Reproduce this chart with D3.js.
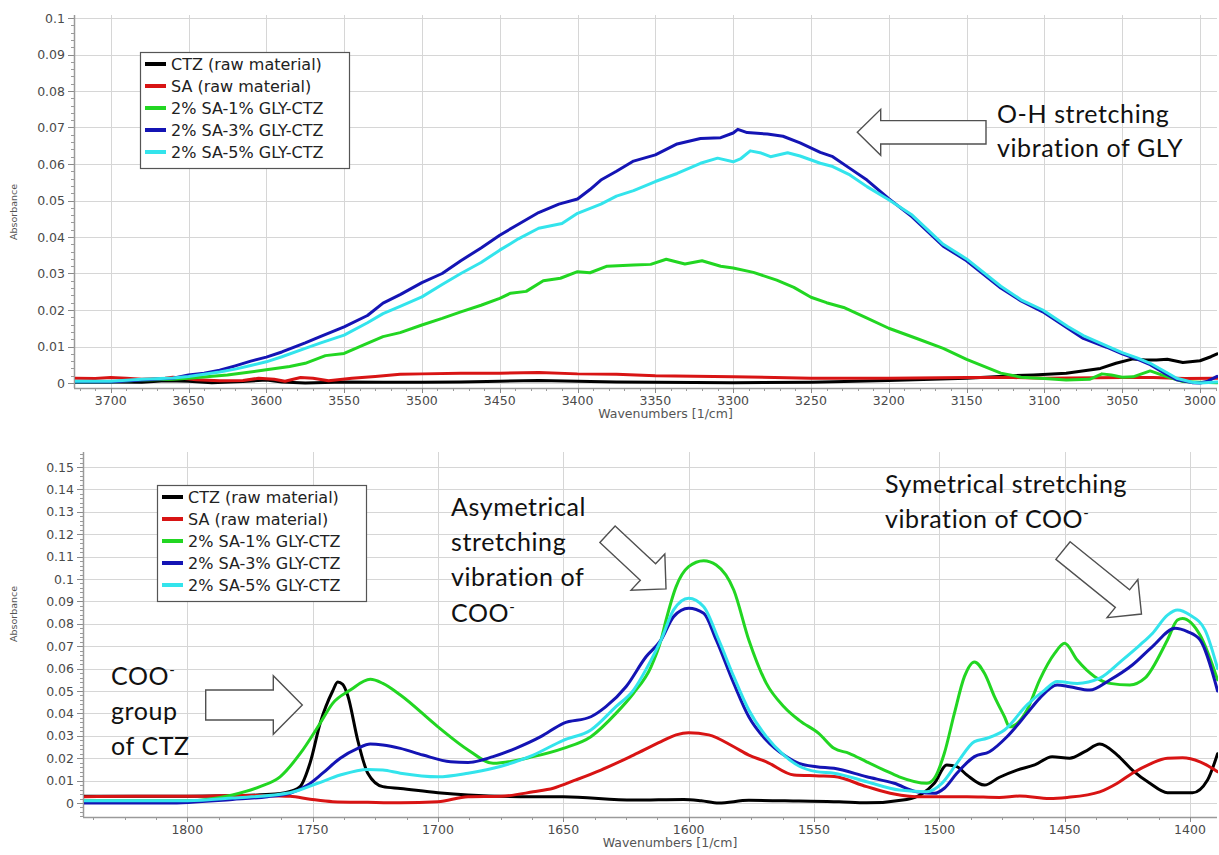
<!DOCTYPE html>
<html>
<head>
<meta charset="utf-8">
<script src="https://cdn.jsdelivr.net/npm/d3@7"></script>
<style>
  html, body { margin: 0; padding: 0; background: #fff; }
  svg { display: block; }
</style>
</head>
<body>
<svg id="chart" width="1219" height="855"></svg>
<script>
// ---- Series names and colours ----
const seriesNames = ["CTZ (raw material)", "SA (raw material)", "2% SA-1% GLY-CTZ", "2% SA-3% GLY-CTZ", "2% SA-5% GLY-CTZ"];
const seriesColors = ["#000000", "#d81414", "#22d622", "#1414b4", "#33e4ec"];

// ---- Upper panel: O-H region (wavenumber, absorbance) ----
const ohCTZ = [[3724,0.0003],[3700,0.0003],[3680,0.0002],[3665,0.0006],[3650,0.0005],[3635,0.0001],[3615,0.0004],[3600,0.0008],[3590,0.0003],[3575,0.0],[3550,0.0003],[3525,0.0002],[3500,0.0002],[3475,0.0003],[3450,0.0005],[3425,0.0007],[3400,0.0005],[3375,0.0003],[3350,0.0002],[3300,0.0001],[3250,0.0002],[3200,0.0007],[3150,0.0013],[3120,0.0020],[3107,0.0022],[3086,0.0027],[3064,0.0040],[3054,0.0054],[3043,0.0066],[3035,0.0063],[3028,0.0063],[3021,0.0065],[3011,0.0056],[3000,0.0061],[2993,0.0072],[2989,0.0080]];
const ohSA = [[3724,0.0013],[3710,0.0012],[3700,0.0015],[3690,0.0013],[3680,0.0010],[3665,0.0013],[3660,0.0016],[3645,0.0009],[3630,0.0006],[3615,0.0007],[3605,0.0013],[3595,0.0010],[3588,0.0005],[3578,0.0015],[3570,0.0013],[3560,0.0006],[3545,0.0013],[3530,0.0018],[3514,0.0024],[3500,0.0025],[3475,0.0027],[3450,0.0027],[3425,0.0029],[3400,0.0025],[3375,0.0024],[3350,0.0020],[3300,0.0017],[3250,0.0013],[3200,0.0013],[3150,0.0015],[3120,0.0015],[3100,0.0013],[3050,0.0015],[3030,0.0015],[3010,0.0012],[2989,0.0013]];
const ohGly1 = [[3724,0.0002],[3700,0.0003],[3680,0.0008],[3660,0.0010],[3650,0.0013],[3625,0.0022],[3600,0.0036],[3585,0.0045],[3575,0.0054],[3562,0.0075],[3550,0.0081],[3537,0.0105],[3525,0.0127],[3514,0.0138],[3500,0.0159],[3487,0.0177],[3475,0.0195],[3462,0.0213],[3450,0.0232],[3443,0.0246],[3433,0.0251],[3422,0.0280],[3411,0.0287],[3400,0.0305],[3392,0.0302],[3381,0.0320],[3364,0.0323],[3353,0.0325],[3343,0.0339],[3331,0.0326],[3320,0.0335],[3308,0.0320],[3300,0.0315],[3287,0.0303],[3272,0.0282],[3261,0.0262],[3250,0.0235],[3240,0.0220],[3229,0.0207],[3215,0.0180],[3200,0.0150],[3182,0.0122],[3165,0.0095],[3150,0.0065],[3128,0.0027],[3115,0.0016],[3100,0.0012],[3086,0.0008],[3071,0.0010],[3063,0.0025],[3057,0.0022],[3050,0.0016],[3043,0.0017],[3032,0.0033],[3021,0.0017],[3011,0.0004],[3000,0.0002],[2989,0.0001]];
const ohGly3 = [[3724,0.0003],[3700,0.0003],[3680,0.0008],[3660,0.0013],[3650,0.0022],[3640,0.0027],[3630,0.0035],[3620,0.0047],[3610,0.0060],[3600,0.0071],[3590,0.0085],[3575,0.0110],[3565,0.0128],[3550,0.0154],[3535,0.0185],[3525,0.0219],[3514,0.0242],[3500,0.0275],[3487,0.0300],[3475,0.0335],[3462,0.0370],[3450,0.0405],[3438,0.0435],[3425,0.0467],[3412,0.0490],[3400,0.0504],[3392,0.0530],[3385,0.0556],[3375,0.0580],[3364,0.0608],[3350,0.0625],[3336,0.0655],[3321,0.0670],[3308,0.0672],[3300,0.0685],[3297,0.0695],[3291,0.0686],[3278,0.0682],[3268,0.0676],[3257,0.0658],[3244,0.0632],[3236,0.0620],[3225,0.0588],[3214,0.0556],[3200,0.0505],[3185,0.0455],[3165,0.0375],[3150,0.0335],[3128,0.0260],[3115,0.0225],[3101,0.0195],[3085,0.0150],[3075,0.0122],[3060,0.0098],[3050,0.0080],[3040,0.0065],[3032,0.0050],[3022,0.0025],[3015,0.0009],[3005,0.0001],[3000,0.0],[2995,0.0005],[2989,0.0018]];
const ohGly5 = [[3724,0.0005],[3700,0.0005],[3680,0.0010],[3660,0.0014],[3650,0.0018],[3640,0.0024],[3630,0.0030],[3620,0.0038],[3610,0.0048],[3600,0.0058],[3590,0.0072],[3575,0.0095],[3565,0.0110],[3550,0.0131],[3535,0.0165],[3525,0.0190],[3514,0.0210],[3500,0.0236],[3487,0.0270],[3475,0.0300],[3462,0.0330],[3450,0.0364],[3438,0.0395],[3425,0.0424],[3410,0.0437],[3400,0.0465],[3385,0.0490],[3375,0.0512],[3364,0.0527],[3350,0.0552],[3336,0.0574],[3321,0.0602],[3310,0.0616],[3300,0.0606],[3295,0.0615],[3289,0.0636],[3282,0.0630],[3276,0.0620],[3265,0.0631],[3257,0.0622],[3244,0.0602],[3236,0.0593],[3225,0.0570],[3214,0.0538],[3200,0.0502],[3185,0.0460],[3165,0.0380],[3150,0.0340],[3128,0.0265],[3115,0.0228],[3101,0.0200],[3085,0.0155],[3075,0.0130],[3060,0.0102],[3050,0.0083],[3040,0.0068],[3032,0.0054],[3022,0.0030],[3015,0.0013],[3005,0.0002],[3000,0.0],[2989,0.0003]];

// ---- Lower panel: carboxylate region (wavenumber, absorbance) ----
const cooCTZ = [[1842,0.0030],[1820,0.0030],[1800,0.0030],[1780,0.0033],[1765,0.0040],[1758,0.0055],[1755,0.0073],[1751,0.0180],[1747,0.0356],[1742,0.0500],[1740,0.0540],[1738,0.0530],[1736,0.0480],[1732,0.0280],[1728,0.0133],[1722,0.0073],[1715,0.0065],[1700,0.0046],[1688,0.0036],[1662,0.0028],[1650,0.0028],[1622,0.0013],[1602,0.0016],[1595,0.0010],[1588,0.0],[1576,0.0012],[1556,0.0009],[1540,0.0006],[1529,0.0001],[1513,0.0016],[1507,0.0040],[1502,0.0088],[1497,0.0170],[1493,0.0162],[1489,0.0125],[1482,0.0080],[1476,0.0115],[1469,0.0147],[1462,0.0170],[1455,0.0207],[1448,0.0200],[1442,0.0229],[1436,0.0263],[1429,0.0214],[1423,0.0147],[1416,0.0088],[1409,0.0046],[1399,0.0046],[1393,0.0103],[1389,0.0220]];
const cooSA = [[1842,0.0028],[1820,0.0030],[1795,0.0030],[1782,0.0034],[1770,0.0033],[1759,0.0030],[1751,0.0017],[1742,0.0006],[1728,0.0003],[1715,0.0001],[1700,0.0006],[1688,0.0028],[1675,0.0030],[1662,0.0050],[1654,0.0066],[1645,0.0103],[1635,0.0147],[1622,0.0214],[1611,0.0274],[1605,0.0304],[1600,0.0314],[1592,0.0304],[1582,0.0251],[1576,0.0214],[1569,0.0184],[1558,0.0125],[1548,0.0121],[1542,0.0118],[1529,0.0073],[1518,0.0040],[1509,0.0028],[1489,0.0028],[1476,0.0025],[1468,0.0031],[1456,0.0020],[1449,0.0025],[1436,0.0050],[1429,0.0088],[1423,0.0133],[1416,0.0174],[1409,0.0200],[1403,0.0202],[1396,0.0184],[1389,0.0140]];
const cooGly1 = [[1842,0.0010],[1800,0.0010],[1782,0.0036],[1771,0.0073],[1763,0.0117],[1755,0.0220],[1747,0.0356],[1742,0.0445],[1735,0.0504],[1727,0.0552],[1722,0.0534],[1715,0.0482],[1700,0.0340],[1688,0.0237],[1678,0.0177],[1662,0.0207],[1650,0.0244],[1639,0.0296],[1629,0.0400],[1622,0.0490],[1615,0.0608],[1611,0.0728],[1609,0.0817],[1605,0.0966],[1600,0.1055],[1594,0.1082],[1589,0.1063],[1582,0.0951],[1576,0.0728],[1569,0.0534],[1562,0.0430],[1556,0.0370],[1548,0.0310],[1542,0.0244],[1536,0.0222],[1529,0.0184],[1522,0.0147],[1516,0.0117],[1505,0.0088],[1502,0.0110],[1498,0.0222],[1494,0.0400],[1490,0.0564],[1486,0.0630],[1482,0.0579],[1478,0.0475],[1474,0.0385],[1472,0.0340],[1465,0.0415],[1460,0.0549],[1454,0.0668],[1450,0.0713],[1445,0.0638],[1438,0.0564],[1432,0.0534],[1424,0.0527],[1418,0.0557],[1409,0.0728],[1405,0.0817],[1403,0.0824],[1396,0.0750],[1389,0.0550]];
const cooGly3 = [[1842,0.0],[1808,0.0],[1782,0.0016],[1768,0.0028],[1759,0.0043],[1752,0.0080],[1746,0.0133],[1739,0.0200],[1732,0.0244],[1727,0.0263],[1722,0.0259],[1715,0.0244],[1706,0.0214],[1695,0.0184],[1688,0.0181],[1678,0.0207],[1669,0.0244],[1659,0.0296],[1650,0.0356],[1639,0.0385],[1633,0.0430],[1625,0.0519],[1617,0.0653],[1611,0.0728],[1606,0.0832],[1600,0.0869],[1594,0.0847],[1589,0.0728],[1582,0.0534],[1576,0.0385],[1569,0.0280],[1562,0.0214],[1556,0.0177],[1549,0.0162],[1542,0.0155],[1529,0.0117],[1518,0.0088],[1509,0.0050],[1502,0.0043],[1498,0.0066],[1493,0.0133],[1486,0.0207],[1480,0.0229],[1473,0.0296],[1465,0.0400],[1460,0.0467],[1453,0.0527],[1448,0.0519],[1440,0.0504],[1432,0.0549],[1423,0.0616],[1415,0.0698],[1406,0.0780],[1401,0.0765],[1396,0.0728],[1389,0.0500]];
const cooGly5 = [[1842,0.0010],[1800,0.0010],[1782,0.0022],[1759,0.0046],[1748,0.0088],[1739,0.0125],[1728,0.0150],[1722,0.0147],[1715,0.0133],[1700,0.0117],[1688,0.0133],[1678,0.0155],[1662,0.0214],[1650,0.0280],[1639,0.0326],[1629,0.0430],[1622,0.0504],[1615,0.0638],[1611,0.0728],[1606,0.0862],[1600,0.0914],[1594,0.0876],[1588,0.0728],[1582,0.0564],[1576,0.0415],[1569,0.0296],[1562,0.0214],[1556,0.0165],[1549,0.0140],[1542,0.0133],[1529,0.0095],[1516,0.0058],[1505,0.0050],[1499,0.0088],[1493,0.0177],[1486,0.0274],[1481,0.0289],[1474,0.0326],[1465,0.0438],[1458,0.0504],[1453,0.0542],[1445,0.0534],[1436,0.0557],[1427,0.0638],[1420,0.0705],[1415,0.0757],[1409,0.0839],[1405,0.0862],[1400,0.0839],[1394,0.0772],[1389,0.0600]];

// ---- Axis ticks ----
const ohXTicks = [3700,3650,3600,3550,3500,3450,3400,3350,3300,3250,3200,3150,3100,3050,3000];
const ohYTicks = [0,0.01,0.02,0.03,0.04,0.05,0.06,0.07,0.08,0.09,0.1];
const cooXTicks = [1800,1750,1700,1650,1600,1550,1500,1450,1400];
const cooYTicks = [0,0.01,0.02,0.03,0.04,0.05,0.06,0.07,0.08,0.09,0.1,0.11,0.12,0.13,0.14,0.15];

const svg = d3.select("#chart");
svg.append("rect").attr("width", 1219).attr("height", 855).attr("fill", "#fff");

function drawPanel(p) {
  const g = svg.append("g");
  const x = d3.scaleLinear().domain(p.xDomain).range(p.xRange);
  const y = d3.scaleLinear().domain(p.yDomain).range(p.yRange);
  const [L, R, T, B] = [p.left, p.right, p.top, p.bottom];

  // grid
  g.append("g").selectAll("line").data(p.yTicks).join("line")
    .attr("x1", L).attr("x2", R)
    .attr("y1", d => Math.round(y(d)) + 0.5).attr("y2", d => Math.round(y(d)) + 0.5)
    .attr("stroke", "#d6d6d6").attr("stroke-width", 1);
  g.append("g").selectAll("line").data(p.xTicks).join("line")
    .attr("y1", T).attr("y2", B)
    .attr("x1", d => Math.round(x(d)) + 0.5).attr("x2", d => Math.round(x(d)) + 0.5)
    .attr("stroke", "#d6d6d6").attr("stroke-width", 1);

  // y axis with minor ticks
  const yMinor = d3.range(p.yDomainMinor[0], p.yDomainMinor[1], p.yMinorStep);
  g.append("g").selectAll("line").data(yMinor).join("line")
    .attr("x1", L - 3).attr("x2", L)
    .attr("y1", d => Math.round(y(d)) + 0.5).attr("y2", d => Math.round(y(d)) + 0.5)
    .attr("stroke", "#9a9a9a");
  g.append("g").selectAll("line").data(p.yTicks).join("line")
    .attr("x1", L - 6).attr("x2", L)
    .attr("y1", d => Math.round(y(d)) + 0.5).attr("y2", d => Math.round(y(d)) + 0.5)
    .attr("stroke", "#8a8a8a");
  g.append("line").attr("x1", L + 0.5).attr("x2", L + 0.5).attr("y1", T).attr("y2", B)
    .attr("stroke", "#9a9a9a").attr("stroke-width", 1.5);
  g.append("g").selectAll("text").data(p.yTicks).join("text")
    .attr("x", L - 9).attr("y", d => y(d)).attr("dy", "0.36em")
    .attr("text-anchor", "end")
    .attr("font-family", "DejaVu Sans, Verdana, sans-serif")
    .attr("font-size", 12.5).attr("fill", "#4a4a4a")
    .text(d => d === 0 ? "0" : String(+d.toFixed(2)));

  // x axis with minor ticks
  const xMinor = d3.range(p.xMinor[0], p.xMinor[1], p.xMinorStep);
  g.append("line").attr("x1", L).attr("x2", R).attr("y1", B + 0.5).attr("y2", B + 0.5)
    .attr("stroke", "#9a9a9a").attr("stroke-width", 1.5);
  g.append("g").selectAll("line").data(xMinor.filter(v => x(v) >= L && x(v) <= R)).join("line")
    .attr("x1", d => Math.round(x(d)) + 0.5).attr("x2", d => Math.round(x(d)) + 0.5)
    .attr("y1", B).attr("y2", B + 3).attr("stroke", "#9a9a9a");
  g.append("g").selectAll("line").data(p.xTicks).join("line")
    .attr("x1", d => Math.round(x(d)) + 0.5).attr("x2", d => Math.round(x(d)) + 0.5)
    .attr("y1", B).attr("y2", B + 5).attr("stroke", "#8a8a8a");
  g.append("g").selectAll("text").data(p.xTicks).join("text")
    .attr("x", d => x(d)).attr("y", B + 17)
    .attr("text-anchor", "middle")
    .attr("font-family", "DejaVu Sans, Verdana, sans-serif")
    .attr("font-size", 12.5).attr("fill", "#4a4a4a")
    .text(d => d);

  // axis titles
  g.append("text").attr("x", (L + R) / 2 + 20).attr("y", B + 30)
    .attr("text-anchor", "middle")
    .attr("font-family", "DejaVu Sans, Verdana, sans-serif")
    .attr("font-size", 12.5).attr("fill", "#555")
    .text("Wavenumbers [1/cm]");
  g.append("text")
    .attr("transform", `translate(${p.yTitleX},${p.yTitleY}) rotate(-90)`)
    .attr("text-anchor", "middle")
    .attr("font-family", "DejaVu Sans, Verdana, sans-serif")
    .attr("font-size", 9.5).attr("fill", "#555")
    .text("Absorbance");

  // spectra
  const clipId = "clip" + p.id;
  svg.append("clipPath").attr("id", clipId).append("rect")
    .attr("x", L + 1).attr("y", T).attr("width", R - L).attr("height", B - T);
  const line = d3.line().x(d => x(d[0])).y(d => y(d[1])).curve(p.curve);
  g.append("g").attr("clip-path", `url(#${clipId})`)
    .selectAll("path").data(p.series).join("path")
    .attr("d", d => line(d))
    .attr("fill", "none")
    .attr("stroke", (d, i) => seriesColors[i])
    .attr("stroke-width", 3)
    .attr("stroke-linejoin", "round")
    .attr("stroke-linecap", "round");

  // legend
  const lg = g.append("g").attr("transform", `translate(${p.legend[0]},${p.legend[1]})`);
  lg.append("rect").attr("x", 0.5).attr("y", 0.5).attr("width", 209).attr("height", 116)
    .attr("fill", "#fff").attr("stroke", "#555").attr("stroke-width", 1.2);
  const rows = lg.selectAll("g.row").data(seriesNames).join("g")
    .attr("transform", (d, i) => `translate(0,${12 + i * 22})`);
  rows.append("line").attr("x1", 5).attr("x2", 26).attr("y1", 0).attr("y2", 0)
    .attr("stroke", (d, i) => seriesColors[i]).attr("stroke-width", 4);
  rows.append("text").attr("x", 31).attr("y", 0).attr("dy", "0.36em")
    .attr("font-family", "DejaVu Sans, Verdana, sans-serif")
    .attr("font-size", 16).attr("fill", "#222")
    .text(d => d);
}

drawPanel({
  id: "oh",
  xDomain: [3700, 3000], xRange: [110.7, 1200],
  yDomain: [0, 0.1], yRange: [383, 18],
  left: 74, right: 1217, top: 15, bottom: 388,
  xTicks: ohXTicks, yTicks: ohYTicks,
  xMinor: [2990, 3730], xMinorStep: 10,
  yDomainMinor: [0, 0.1005], yMinorStep: 0.002,
  yTitleX: 17, yTitleY: 212,
  legend: [140, 52],
  curve: d3.curveLinear,
  series: [ohCTZ, ohSA, ohGly1, ohGly3, ohGly5]
});

drawPanel({
  id: "coo",
  xDomain: [1800, 1400], xRange: [187.3, 1190],
  yDomain: [0, 0.15], yRange: [803, 467],
  left: 83, right: 1217, top: 452, bottom: 817,
  xTicks: cooXTicks, yTicks: cooYTicks,
  xMinor: [1387.5, 1850], xMinorStep: 12.5,
  yDomainMinor: [-0.006, 0.1565], yMinorStep: 0.002,
  yTitleX: 17, yTitleY: 614,
  legend: [157, 485],
  curve: d3.curveMonotoneX,
  series: [cooCTZ, cooSA, cooGly1, cooGly3, cooGly5]
});

// ---- Band assignments: block arrows and labels ----
function blockArrow(len, shaftW, headW, headL) {
  const s = shaftW / 2, h = headW / 2, b = len - headL;
  return `M0,${-s}L${b},${-s}L${b},${-h}L${len},0L${b},${h}L${b},${s}L0,${s}Z`;
}
const arrows = [
  { at: [986, 132.3], angle: 180, len: 128.7, shaft: 23.3, head: 46, headLen: 23.4 },
  { at: [205.7, 705], angle: 0, len: 96.6, shaft: 30, head: 58.6, headLen: 29 },
  { at: [607.5, 534.3], angle: 43, len: 80, shaft: 22.4, head: 49.5, headLen: 24.7 },
  { at: [1063, 550.5], angle: 39, len: 101, shaft: 22.6, head: 49, headLen: 24.5 }
];
svg.append("g").selectAll("path").data(arrows).join("path")
  .attr("transform", d => `translate(${d.at[0]},${d.at[1]}) rotate(${d.angle})`)
  .attr("d", d => blockArrow(d.len, d.shaft, d.head, d.headLen))
  .attr("fill", "#fff").attr("stroke", "#505050").attr("stroke-width", 1.4)
  .attr("stroke-linejoin", "miter");

const notes = [
  { x: 997, y: 123, text: "O-H stretching" },
  { x: 997, y: 157, text: "vibration of GLY" },
  { x: 111, y: 685, text: "COO", sup: "-" },
  { x: 111, y: 720, text: "group" },
  { x: 111, y: 755, text: "of CTZ" },
  { x: 451, y: 516, text: "Asymetrical" },
  { x: 451, y: 551, text: "stretching" },
  { x: 451, y: 586, text: "vibration of" },
  { x: 451, y: 622, text: "COO", sup: "-" },
  { x: 885, y: 493, text: "Symetrical stretching" },
  { x: 885, y: 528, text: "vibration of COO", sup: "-" }
];
const nt = svg.append("g").selectAll("text").data(notes).join("text")
  .attr("x", d => d.x).attr("y", d => d.y)
  .attr("font-family", "Lato, 'Open Sans', sans-serif")
  .attr("font-size", 25).attr("letter-spacing", 0.6).attr("fill", "#111");
nt.append("tspan").text(d => d.text);
nt.filter(d => d.sup).append("tspan")
  .attr("dy", -10).attr("font-size", 15).text(d => d.sup);
</script>
</body>
</html>
